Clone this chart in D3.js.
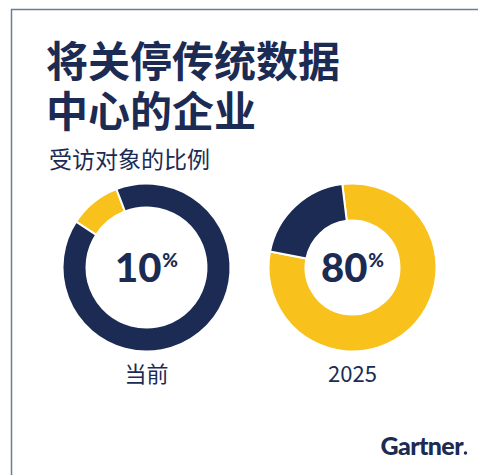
<!DOCTYPE html>
<html>
<head>
<meta charset="utf-8">
<script src="https://cdn.jsdelivr.net/npm/d3@7"></script>
<style>
  body { margin: 0; background: #fff; }
</style>
</head>
<body>
<svg id="mainsvg" width="478" height="475"></svg>
<script>
const titleLines = ['将关停传统数据', '中心的企业'];
const subtitle = '受访对象的比例';
const periods = ['当前', '2025'];
const shares = [10, 80];   // % of respondents

const navy = '#1b2b53';
const yellow = '#f9c11b';

const svg = d3.select('#mainsvg');
const width = +svg.attr('width');
const height = +svg.attr('height');

// frame
svg.append('path')
  .attr('d', `M11.5,${height + 2} V9.5 H${width + 2}`)
  .attr('fill', 'none')
  .attr('stroke', '#6e7b96')
  .attr('stroke-width', 1.5);

// title, one text per line
titleLines.forEach((line, i) => {
  svg.append('text')
    .attr('x', 46).attr('y', 77 + i * 50)
    .attr('font-family', '"Noto Sans CJK SC", sans-serif')
    .attr('font-weight', 'bold')
    .attr('font-size', 42)
    .attr('fill', navy)
    .text(line);
});

svg.append('text')
  .attr('x', 49).attr('y', 168)
  .attr('font-family', '"Noto Sans CJK SC", sans-serif')
  .attr('font-size', 23)
  .attr('fill', navy)
  .text(subtitle);

// donuts
const xScale = d3.scalePoint().domain(periods).range([146.5, 352.5]);
const cy = 267.5;
const outerR = 84;
const innerR = [60, 47];
const startDeg = [-57, -7];

periods.forEach((p, i) => {
  const pie = d3.pie().sort(null)
    .startAngle(startDeg[i] * Math.PI / 180)
    .endAngle(startDeg[i] * Math.PI / 180 + 2 * Math.PI);
  const arc = d3.arc().innerRadius(innerR[i]).outerRadius(outerR);
  const g = svg.append('g').attr('transform', `translate(${xScale(p)},${cy})`);
  g.selectAll('path')
    .data(pie([shares[i], 100 - shares[i]]))
    .join('path')
    .attr('d', arc)
    .attr('fill', (d, j) => j === 0 ? yellow : navy)
    .attr('stroke', '#fff')
    .attr('stroke-width', 2);

  const t = g.append('text')
    .attr('y', 14)
    .attr('text-anchor', 'middle')
    .attr('font-family', 'Lato, sans-serif')
    .attr('font-weight', 900)
    .attr('fill', navy);
  t.append('tspan').attr('font-size', 40).text(shares[i]);
  t.append('tspan').attr('font-size', 19).attr('dy', -15).attr('dx', 1).text('%');

  svg.append('text')
    .attr('x', xScale(p)).attr('y', 382)
    .attr('text-anchor', 'middle')
    .attr('font-family', '"Noto Sans CJK SC", sans-serif')
    .attr('font-size', 22)
    .attr('fill', navy)
    .text(p);
});

// logo
svg.append('text')
  .attr('x', 463).attr('y', 455)
  .attr('text-anchor', 'end')
  .attr('font-family', 'Lato, sans-serif')
  .attr('font-weight', 900)
  .attr('font-size', 25)
  .attr('letter-spacing', -0.6)
  .attr('fill', navy)
  .text('Gartner');
svg.append('circle').attr('cx', 465.5).attr('cy', 453).attr('r', 1.7).attr('fill', navy);
</script>
</body>
</html>
